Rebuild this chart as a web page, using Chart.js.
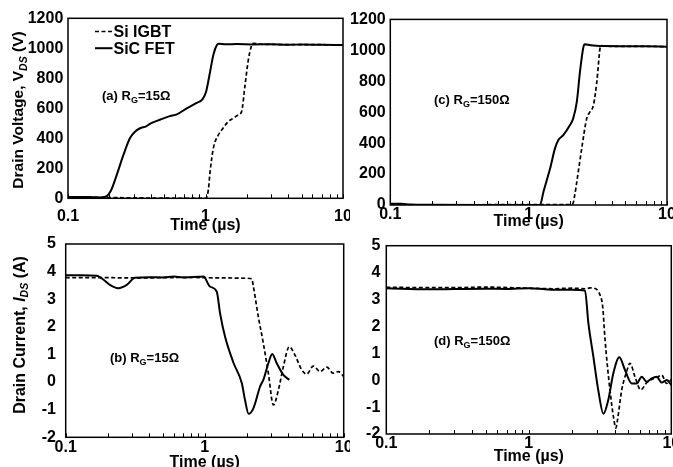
<!DOCTYPE html>
<html><head><meta charset="utf-8">
<script src="https://cdn.jsdelivr.net/npm/chart.js@4.4.1/dist/chart.umd.min.js"></script>
<style>
html,body{margin:0;padding:0;background:#fff;overflow:hidden;width:673px;height:467px;}
canvas{position:absolute;}
</style></head><body>
<canvas id="ca" width="350" height="240" style="left:0px;top:0px"></canvas>
<canvas id="cc" width="333" height="240" style="left:340px;top:0px"></canvas>
<canvas id="cb" width="350" height="250" style="left:0px;top:235px"></canvas>
<canvas id="cd" width="333" height="250" style="left:340px;top:235px"></canvas>
<script>
// ---------- DATA ----------
const seriesNames = ['Si IGBT', 'SiC FET'];
const xMajorTicks = [0.1, 1, 10];
const xTickLabels = ['0.1', '1', '10'];
const vdsTicks = [0, 200, 400, 600, 800, 1000, 1200];
const idsTicks = [-2, -1, 0, 1, 2, 3, 4, 5];

// (a) VDS, RG = 15 ohm
const tA_IGBT = [0.1, 0.15, 0.2, 0.3, 0.5, 0.8, 1.0, 1.02, 1.05, 1.08, 1.14, 1.24, 1.35, 1.46, 1.6, 1.73, 1.83, 1.94, 2.04, 2.15, 2.22, 2.5, 3, 4, 5, 7, 10];
const vA_IGBT = [8, 7, 5, 3, 1, 0, 0, 5, 60, 178, 333, 422, 470, 511, 535, 556, 578, 756, 911, 1011, 1033, 1027, 1026, 1024, 1025, 1024, 1022];
const tA_FET = [0.1, 0.14, 0.175, 0.19, 0.205, 0.226, 0.253, 0.282, 0.307, 0.334, 0.37, 0.40, 0.47, 0.55, 0.62, 0.73, 0.85, 0.95, 1.01, 1.08, 1.14, 1.21, 1.25, 1.4, 1.7, 2.2, 3, 4, 5, 7, 10];
const vA_FET = [9, 8, 6, 12, 50, 155, 289, 400, 444, 467, 480, 500, 525, 548, 560, 600, 633, 660, 711, 844, 956, 1022, 1030, 1027, 1028, 1026, 1027, 1024, 1025, 1023, 1022];

// (c) VDS, RG = 150 ohm
const tC_IGBT = [0.1, 0.3, 0.5, 0.8, 1.0, 1.5, 2.0, 2.09, 2.15, 2.23, 2.42, 2.63, 2.78, 2.94, 3.11, 3.28, 3.33, 3.6, 4, 5, 7, 10];
const vC_IGBT = [0, 0, 2, 3, 3, 2, 3, 10, 60, 151, 366, 560, 603, 646, 797, 1013, 1030, 1027, 1026, 1025, 1026, 1023];
const tC_FET = [0.1, 0.12, 0.14, 0.2, 0.5, 1.0, 1.21, 1.28, 1.43, 1.55, 1.64, 1.78, 1.99, 2.10, 2.23, 2.35, 2.49, 2.55, 2.8, 3.5, 5, 7, 10];
const vC_FET = [8, 8, 3, 1, 0, 0, 2, 86, 237, 366, 420, 452, 517, 560, 668, 862, 1023, 1040, 1033, 1028, 1027, 1026, 1023];

// (b) IDS, RG = 15 ohm
const tB_IGBT = [0.1, 0.2, 0.3, 0.5, 0.8, 1.0, 1.5, 2.0, 2.18, 2.24, 2.43, 2.64, 2.87, 3.12, 3.39, 3.68, 4.06, 4.46, 4.99, 5.42, 6.04, 6.76, 7.55, 8.42, 9.15, 10];
const iB_IGBT = [3.78, 3.78, 3.77, 3.78, 3.79, 3.78, 3.77, 3.76, 3.74, 3.46, 2.37, 1.41, 0.32, -0.83, -0.29, 0.56, 1.28, 0.98, 0.44, 0.29, 0.58, 0.38, 0.54, 0.32, 0.38, 0.20];
const tB_FET = [0.1, 0.13, 0.167, 0.19, 0.208, 0.239, 0.275, 0.315, 0.4, 0.5, 0.6, 0.7, 0.8, 0.9, 0.98, 1.09, 1.22, 1.29, 1.40, 1.61, 1.85, 1.95, 2.07, 2.24, 2.50, 2.65, 2.87, 3.06, 3.30, 3.68, 4.06];
const iB_FET = [3.87, 3.87, 3.85, 3.68, 3.52, 3.40, 3.52, 3.78, 3.80, 3.79, 3.82, 3.79, 3.80, 3.81, 3.82, 3.46, 3.28, 2.49, 1.65, 0.70, -0.04, -0.65, -1.15, -0.95, -0.17, 0.10, 0.68, 1.02, 0.68, 0.26, 0.08];

// (d) IDS, RG = 150 ohm
const tD_IGBT = [0.1, 0.3, 0.5, 1.0, 1.5, 2.0, 2.5, 2.7, 2.92, 3.08, 3.16, 3.3, 3.43, 3.71, 3.95, 4.08, 4.2, 4.49, 4.86, 5.13, 5.56, 6.10, 6.72, 7.28, 7.9, 8.56, 9.29, 10];
const iD_IGBT = [3.45, 3.44, 3.46, 3.42, 3.40, 3.42, 3.40, 3.43, 3.41, 3.30, 3.17, 2.73, 1.49, -0.36, -1.45, -1.78, -1.45, -0.36, 0.32, 0.63, 0.13, -0.36, -0.09, 0.03, 0.10, 0.19, -0.12, 0.02];
const tD_FET = [0.1, 0.2, 0.3, 0.5, 0.7, 1.0, 1.3, 1.5, 2.0, 2.48, 2.62, 2.84, 3.07, 3.34, 3.61, 3.92, 4.32, 4.73, 5.27, 5.72, 6.20, 6.72, 7.28, 7.90, 8.56, 9.29, 10];
const iD_FET = [3.42, 3.38, 3.39, 3.40, 3.39, 3.42, 3.38, 3.36, 3.36, 3.33, 2.11, 0.87, -0.36, -1.25, -0.74, 0.26, 0.85, 0.38, -0.12, -0.12, 0.13, -0.06, 0.07, 0.13, -0.09, 0.01, -0.18];

// ---------- RENDERING ----------
const FONT = "'Liberation Sans', Arial, Helvetica, sans-serif";
const zip = (xs, ys) => xs.map((x, i) => ({x: x, y: ys[i]}));
const xTickValues = [];
[0.1, 1].forEach(d => { for (let k = 1; k <= 9; k++) xTickValues.push(+(d * k).toPrecision(6)); });
xTickValues.push(10);
function xLabel(v) {
  const i = xMajorTicks.findIndex(m => Math.abs(m - v) / m < 1e-6);
  return i >= 0 ? xTickLabels[i] : '';
}

function drawRich(ctx, it) {
  ctx.save();
  ctx.translate(it.x, it.y);
  if (it.rotate) ctx.rotate(it.rotate);
  ctx.textBaseline = 'alphabetic';
  ctx.textAlign = 'left';
  ctx.fillStyle = '#000';
  const fonts = it.segs.map(s => (s.italic ? 'italic ' : '') + 'bold ' + s.size + 'px ' + FONT);
  const widths = it.segs.map((s, i) => { ctx.font = fonts[i]; return ctx.measureText(s.t).width; });
  const total = widths.reduce((a, b) => a + b, 0);
  let x = it.align === 'center' ? -total / 2 : 0;
  it.segs.forEach((s, i) => { ctx.font = fonts[i]; ctx.fillText(s.t, x, s.dy || 0); x += widths[i]; });
  ctx.restore();
}

function makeChart(id, cfg) {
  const deco = {
    id: 'deco_' + id,
    afterDatasetsDraw(chart) {
      const ctx = chart.ctx, ca = chart.chartArea, xs = chart.scales.x;
      ctx.save();
      ctx.strokeStyle = '#000';
      ctx.lineWidth = 1;
      ctx.beginPath();
      xs.ticks.forEach(t => {
        const px = Math.round(xs.getPixelForValue(t.value)) + 0.5;
        ctx.moveTo(px, ca.bottom); ctx.lineTo(px, ca.bottom - 4);
      });
      ctx.stroke();
      ctx.lineWidth = 1.5;
      ctx.strokeRect(ca.left, ca.top, ca.right - ca.left, ca.bottom - ca.top);
      ctx.restore();
    },
    afterDraw(chart) {
      const ctx = chart.ctx;
      cfg.texts.forEach(it => drawRich(ctx, it));
      if (cfg.legend) {
        const L = cfg.legend;
        chart.data.datasets.forEach((ds, i) => {
          const y = L.y + i * L.dy;
          ctx.save();
          ctx.strokeStyle = ds.borderColor;
          ctx.lineWidth = ds.borderWidth;
          ctx.setLineDash(ds.borderDash || []);
          ctx.beginPath(); ctx.moveTo(L.x, y); ctx.lineTo(L.x + L.len, y); ctx.stroke();
          ctx.restore();
          drawRich(ctx, {x: L.x + L.len + 1, y: y + 5.8, segs: [{t: ds.label, size: 16}]});
        });
      }
    }
  };
  const tickFont = {family: FONT, size: 16, weight: 'bold'};
  return new Chart(document.getElementById(id), {
    type: 'line',
    data: {datasets: [
      {label: seriesNames[0], data: zip(cfg.tI, cfg.yI), borderColor: '#000', borderWidth: 1.7, borderDash: [4, 2.5],
       pointRadius: 0, cubicInterpolationMode: 'monotone', fill: false},
      {label: seriesNames[1], data: zip(cfg.tF, cfg.yF), borderColor: '#000', borderWidth: 2,
       pointRadius: 0, cubicInterpolationMode: 'monotone', fill: false}
    ]},
    options: {
      responsive: false, animation: false, events: [],
      layout: {padding: cfg.pad},
      plugins: {legend: {display: false}, tooltip: {enabled: false}},
      scales: {
        x: {
          type: 'logarithmic', min: 0.1, max: 10, position: 'bottom',
          afterBuildTicks: s => { s.ticks = xTickValues.map(v => ({value: v})); },
          afterFit: s => { s.height = cfg.xH; s.paddingLeft = 0; s.paddingRight = 0; },
          ticks: {autoSkip: false, maxRotation: 0, minRotation: 0, padding: cfg.xPad, color: '#000', font: tickFont,
                  callback: v => xLabel(v)},
          grid: {display: false}, border: {display: false},
          title: {display: true, text: 'Time (µs)', color: '#000', font: tickFont, padding: {top: 0, bottom: cfg.titlePad}}
        },
        y: {
          type: 'linear', min: cfg.yTicks[0], max: cfg.yTicks[cfg.yTicks.length - 1], position: 'left',
          afterBuildTicks: s => { s.ticks = cfg.yTicks.map(v => ({value: v})); },
          afterFit: s => { s.width = cfg.yW; s.paddingTop = 0; s.paddingBottom = 0; },
          ticks: {autoSkip: false, padding: cfg.yPad, color: '#000', font: tickFont, callback: v => String(v)},
          grid: {display: false, drawTicks: false}, border: {display: false}
        }
      }
    },
    plugins: [deco]
  });
}

const rg = (tag, val) => [{t: '(' + tag + ') R', size: 13}, {t: 'G', size: 9, dy: 3}, {t: '=' + val + 'Ω', size: 13}];

makeChart('ca', {
  tI: tA_IGBT, yI: vA_IGBT, tF: tA_FET, yF: vA_FET, yTicks: vdsTicks,
  pad: {top: 18.3, right: 7, left: 0, bottom: 0}, yW: 68, xH: 41.7, xPad: 1.1, titlePad: 4.6, yPad: 4.7,
  texts: [
    {x: 102, y: 99.6, segs: rg('a', '15')},
    {x: 23, y: 110, rotate: -Math.PI / 2, align: 'center',
     segs: [{t: 'Drain Voltage, V', size: 15.5}, {t: 'DS', size: 10.5, italic: true, dy: 3.5}, {t: ' (V)', size: 15.5}]}
  ],
  legend: {x: 95, y: 31.5, dy: 16.7, len: 17.5}
});
makeChart('cc', {
  tI: tC_IGBT, yI: vC_IGBT, tF: tC_FET, yF: vC_FET, yTicks: vdsTicks,
  pad: {top: 19.4, right: 6, left: 0, bottom: 0}, yW: 50.3, xH: 35, xPad: -8.1, titlePad: 9.2, yPad: 4.6,
  texts: [{x: 94, y: 104, segs: rg('c', '150')}]
});
makeChart('cb', {
  tI: tB_IGBT, yI: iB_IGBT, tF: tB_FET, yF: iB_FET, yTicks: idsTicks,
  pad: {top: 9, right: 6.3, left: 0, bottom: 0}, yW: 65.7, xH: 47.7, xPad: -7.4, titlePad: 12.7, yPad: 9.7,
  texts: [
    {x: 110, y: 127.4, segs: rg('b', '15')},
    {x: 24.5, y: 100, rotate: -Math.PI / 2, align: 'center',
     segs: [{t: 'Drain Current, ', size: 16}, {t: 'I', size: 16, italic: true}, {t: 'DS', size: 10.5, italic: true, dy: 3.5}, {t: ' (A)', size: 16}]}
  ]
});
makeChart('cd', {
  tI: tD_IGBT, yI: iD_IGBT, tF: tD_FET, yF: iD_FET, yTicks: idsTicks,
  pad: {top: 10.7, right: 1.7, left: 0, bottom: 0}, yW: 46.3, xH: 51, xPad: -8.1, titlePad: 19.2, yPad: 6,
  texts: [{x: 94, y: 109.5, segs: rg('d', '150')}]
});
</script>
</body></html>
